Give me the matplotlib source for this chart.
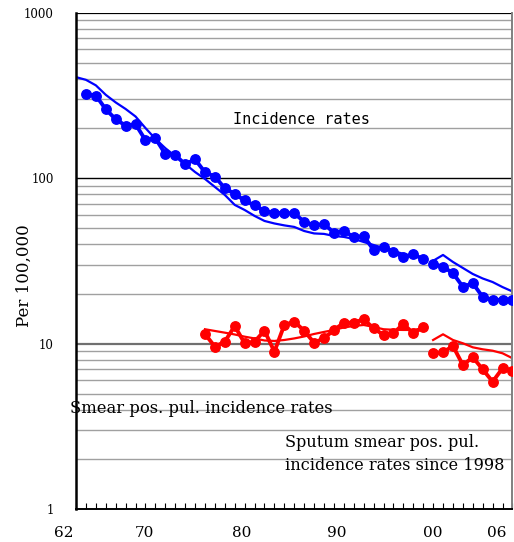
import matplotlib
matplotlib.use("Agg")
import matplotlib.pyplot as plt

# incidence rates per 100,000 (dotted series), two segments split at 1998
inc_years_a = list(range(1963, 1998))
inc_rates_a = [323, 316, 261, 227, 208, 212, 170, 174.5, 140, 138, 121.5, 130,
               108.7, 102.3, 87, 80.4, 73.4, 68.5, 63.5, 61.7, 61.7, 61.3, 54.7,
               51.9, 52.9, 46.9, 48.2, 44.0, 44.8, 36.9, 38.6, 36.0, 33.3, 34.7,
               32.5]
inc_years_b = list(range(1998, 2007))
inc_rates_b = [30.4, 29.2, 26.7, 22.1, 23.2, 19.2, 18.4, 18.4, 18.4]

# reference incidence (thin blue line)
ref_years_a = list(range(1962, 1998))
ref_rates_a = [408, 393, 364, 319, 287, 262, 236, 201, 173, 152, 136, 122, 109,
               99, 88.6, 79.3, 69, 64.3, 59.2, 55.2, 53.3, 51.9, 50.8, 48.0,
               46.4, 46.1, 44.8, 44.2, 43.0, 41.2, 39.5, 37.9, 36.4, 34.9, 33.9,
               33.0]
ref_years_b = list(range(1998, 2007))
ref_rates_b = [31.7, 34.4, 31.2, 28.7, 26.4, 24.8, 23.6, 22.0, 20.7]

# smear positive pulmonary incidence (dotted red)
smear_years_a = list(range(1975, 1998))
smear_rates_a = [11.46, 9.60, 10.30, 12.81, 10.07, 10.30, 12.0, 8.96, 12.99,
                 13.6, 12.0, 10.14, 10.8, 12.1, 13.4, 13.4, 14.06, 12.41, 11.3,
                 11.57, 13.17, 11.57, 12.58]
smear_years_b = list(range(1998, 2007))
smear_rates_b = [8.76, 8.88, 9.70, 7.44, 8.29, 7.01, 5.90, 7.11, 6.88]

# reference smear positive (thin red line)
smref_years_a = list(range(1975, 1998))
smref_rates_a = [12.24, 11.95, 11.67, 11.38, 11.04, 10.77, 10.47, 10.40, 10.54,
                 10.77, 11.07, 11.46, 11.79, 12.12, 12.55, 12.81, 12.99, 12.64,
                 12.24, 12.15, 12.12, 12.12, 12.41]
smref_years_b = list(range(1998, 2007))
smref_rates_b = [10.54, 11.41, 10.54, 10.07, 9.52, 9.26, 9.08, 8.76, 8.18]

xlabels = ["62", "70", "80", "90", "00", "06"]
xlabel_pos = [1960.8, 1968.9, 1978.7, 1988.3, 1998.0, 2004.4]

BLUE = "#0000ff"
RED = "#ff0000"
serif = "DejaVu Serif"

fig = plt.figure(figsize=(5.14, 5.42), dpi=100)
ax = fig.add_axes([0.1479, 0.0603, 0.8491, 0.9163])
ax.set_yscale("log")
ax.set_ylim(1, 1000)
ax.set_xlim(1962, 2006)

# horizontal grid: minor grey lines, decade lines darker
for dec in (1, 10, 100):
    for m in range(2, 10):
        ax.axhline(dec * m, color="#a0a0a0", lw=1.0, zorder=0)
ax.axhline(100, color="black", lw=1.0, zorder=0)
ax.axhline(10, color="#707070", lw=1.6, zorder=0)
ax.axhline(1000, color="black", lw=1.6, zorder=0)

for yrs, vals in ((ref_years_a, ref_rates_a), (ref_years_b, ref_rates_b)):
    ax.plot(yrs, vals, color=BLUE, lw=1.6, zorder=2)
for yrs, vals in ((inc_years_a, inc_rates_a), (inc_years_b, inc_rates_b)):
    ax.plot(yrs, vals, color=BLUE, lw=2.8, marker="o", ms=6.8, zorder=3)
for yrs, vals in ((smref_years_a, smref_rates_a), (smref_years_b, smref_rates_b)):
    ax.plot(yrs, vals, color=RED, lw=1.6, zorder=2)
for yrs, vals in ((smear_years_a, smear_rates_a), (smear_years_b, smear_rates_b)):
    ax.plot(yrs, vals, color=RED, lw=2.8, marker="o", ms=6.8, zorder=3)

# axes styling
ax.spines["top"].set_visible(False)
ax.spines["left"].set_linewidth(1.8)
ax.spines["bottom"].set_linewidth(1.4)
ax.spines["right"].set_color("#808080")
ax.spines["right"].set_linewidth(1.4)

ax.set_yticks([1, 10, 100, 1000])
ax.set_yticklabels(["1", "10", "100", "1000"], fontsize=8.5, family=serif)
ax.yaxis.set_minor_locator(matplotlib.ticker.NullLocator())
ax.tick_params(axis="y", length=0, pad=16)

ax.set_xticks(range(1962, 2007))
ax.set_xticklabels([])
ax.tick_params(axis="x", direction="in", length=4, width=0.8)
for lab, pos in zip(xlabels, xlabel_pos):
    ax.text(pos, -0.048, lab, transform=ax.get_xaxis_transform(), ha="center",
            va="center", fontsize=11, family=serif, clip_on=False)

ax.set_ylabel("Per 100,000", fontsize=12, family=serif)
ax.yaxis.set_label_coords(-0.1, 0.47)

ax.text(1977.85, 225, "Incidence rates", fontsize=11, family="DejaVu Sans Mono",
        va="center", ha="left")
ax.text(1961.4, 4.09, "Smear pos. pul. incidence rates", fontsize=11.8, family=serif,
        va="center", ha="left", clip_on=False)
ax.text(1983.1, 2.52, "Sputum smear pos. pul.", fontsize=11.6, family=serif,
        va="center", ha="left")
ax.text(1983.1, 1.83, "incidence rates since 1998", fontsize=11.6, family=serif,
        va="center", ha="left")

fig.savefig("out.png", dpi=100)
